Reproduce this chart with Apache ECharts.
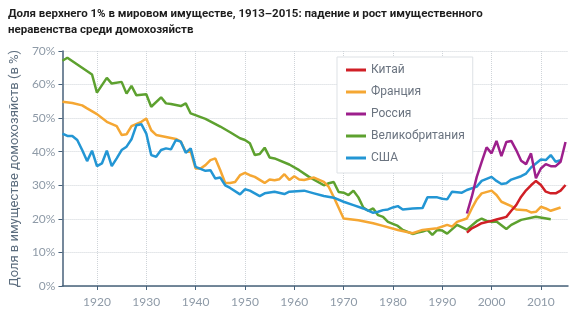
<!DOCTYPE html>
<html><head><meta charset="utf-8">
<script src="https://cdn.jsdelivr.net/npm/echarts@6/dist/echarts.min.js"></script>
<style>html,body{margin:0;padding:0;background:#fff}#c{width:585px;height:326px}</style>
</head><body><div id="c"></div>
<script>
const seriesNames = ['Китай','Франция','Россия','Великобритания','США'];
const tickYears = [1920,1930,1940,1950,1960,1970,1980,1990,2000,2010];

const chinaYears = [1995,1996,1997,1998,2000,2001,2002,2003,2004,2005,2006,2007,2008,2009,2010,2011,2012,2013,2014,2015];
const chinaShare = [15.9,17.2,17.9,18.7,19.4,19.8,20.2,20.6,22.4,24.1,26.6,28.5,30.0,31.3,30.1,28.1,27.6,27.6,28.4,30.1];

const franceYears = [1913,1915,1917,1918,1920,1922,1924,1925,1926,1927,1929,1930,1931,1932,1934,1936,1937,1938,1939,1940,1941,1942,1943,1944,1945,1946,1947,1948,1949,1950,1951,1952,1954,1955,1956,1957,1958,1959,1960,1961,1962,1964,1966,1967,1968,1970,1973,1976,1978,1981,1984,1986,1989,1991,1992,1993,1995,1996,1997,1998,2000,2001,2002,2004,2005,2007,2008,2009,2010,2011,2012,2014];
const franceShare = [54.9,54.5,53.8,52.9,51.2,48.9,47.6,45.0,45.2,47.6,48.9,49.9,46.4,45.0,44.4,43.8,43.0,40.0,40.0,35.0,35.0,36.0,37.5,38.0,34.5,30.7,30.7,31.0,33.0,33.7,33.0,32.5,30.7,31.7,31.5,31.8,33.3,31.6,32.7,31.7,31.6,32.3,31.0,29.5,26.5,20.1,19.6,18.7,17.9,16.7,15.7,16.7,17.2,18.2,17.7,19.1,20.1,23.1,25.8,27.6,28.4,27.1,25.1,23.8,22.8,22.6,21.9,22.1,23.6,23.1,22.4,23.4];

const russiaYears = [1995,1996,1997,1998,1999,2000,2001,2002,2003,2004,2005,2006,2007,2008,2009,2010,2011,2012,2013,2014,2015];
const russiaShare = [21.6,26.6,32.5,37.0,41.3,39.5,43.2,38.7,42.9,43.2,40.5,37.3,36.3,39.5,32.1,35.0,36.3,35.7,35.7,37.0,42.9];

const ukYears = [1913,1914,1919,1920,1922,1923,1925,1926,1927,1928,1930,1931,1933,1934,1935,1937,1938,1939,1942,1945,1947,1949,1950,1951,1952,1953,1954,1955,1956,1959,1961,1963,1966,1967,1968,1969,1970,1971,1972,1973,1974,1975,1976,1977,1978,1979,1981,1982,1984,1985,1986,1987,1988,1989,1990,1991,1993,1995,1997,1998,1999,2000,2001,2003,2004,2006,2009,2012];
const ukShare = [67.1,68.0,63.0,57.6,62.0,60.3,60.8,57.3,59.6,56.8,57.1,53.4,56.2,54.4,54.2,53.6,54.4,51.4,49.8,47.5,45.8,44.0,43.5,42.5,39.0,39.3,41.2,38.3,38.0,36.2,34.5,32.5,30.0,30.6,31.0,28.0,27.8,27.1,28.4,26.4,23.4,22.4,23.1,21.1,20.6,19.1,17.9,16.7,15.5,15.9,16.2,16.7,15.2,16.7,16.5,15.6,18.2,16.8,19.3,20.1,19.4,19.1,19.2,17.0,18.2,19.7,20.6,19.9];

const usaYears = [1913,1914,1915,1916,1917,1918,1919,1920,1921,1922,1923,1924,1925,1926,1927,1928,1929,1930,1931,1932,1933,1934,1935,1936,1937,1938,1939,1940,1942,1943,1944,1945,1946,1947,1949,1950,1951,1953,1954,1956,1958,1959,1962,1964,1966,1968,1970,1972,1974,1976,1977,1978,1979,1980,1981,1982,1984,1986,1987,1989,1990,1991,1992,1994,1995,1997,1998,2000,2001,2002,2003,2004,2006,2007,2008,2009,2010,2011,2012,2013,2014];
const usaShare = [45.4,44.7,44.7,43.5,40.5,37.2,40.3,35.7,36.5,40.3,35.7,38.0,40.5,41.5,43.7,47.9,48.2,45.4,39.0,38.5,40.5,41.0,40.7,43.5,43.0,39.7,41.0,35.5,34.3,34.5,32.0,32.3,30.0,29.2,27.3,28.8,28.4,26.8,27.6,28.1,27.4,28.1,28.4,27.6,26.8,26.3,25.1,24.1,23.1,21.8,22.1,22.6,22.8,23.4,23.8,22.8,23.1,23.2,26.4,26.4,26.0,25.8,28.1,27.8,28.6,29.6,31.3,32.5,31.3,30.4,30.6,31.7,32.7,33.5,35.3,36.5,37.7,37.5,39.0,37.0,37.5];

function zip(xs, ys){ return xs.map((x,i)=>[x, ys[i]]); }

const colors = {
  'Китай':'#d01f26',
  'Франция':'#f5a733',
  'Россия':'#9d1f8c',
  'Великобритания':'#5da12f',
  'США':'#2396d4'
};
const dataByName = {
  'Великобритания': zip(ukYears, ukShare),
  'Франция': zip(franceYears, franceShare),
  'США': zip(usaYears, usaShare),
  'Китай': zip(chinaYears, chinaShare),
  'Россия': zip(russiaYears, russiaShare)
};
const drawOrder = ['Великобритания','Франция','США','Китай','Россия'];

const chart = echarts.init(document.getElementById('c'), null, {renderer:'canvas'});
const axisColor = '#47617a';
const labelColor = '#8e9aa7';
chart.setOption({
  animation: false,
  title: {
    text: 'Доля верхнего 1% в мировом имуществе, 1913–2015: падение и рост имущественного\nнеравенства среди домохозяйств',
    left: 3, top: 1,
    textStyle: {fontFamily: 'Roboto, sans-serif', fontWeight: 'bold', fontSize: 11.5, lineHeight: 16, color: '#1e1e1e'}
  },
  legend: {
    data: seriesNames,
    orient: 'vertical',
    left: 337, top: 57,
    padding: [6, 8, 8, 9],
    backgroundColor: '#fff',
    borderColor: '#dde1e5', borderWidth: 1,
    icon: 'rect', itemWidth: 20, itemHeight: 3, itemGap: 8,
    textStyle: {fontFamily: 'Roboto, sans-serif', fontSize: 12, lineHeight: 14, color: '#6b7480'}
  },
  grid: {left: 51, right: 17, top: 51, bottom: 40, containLabel: false},
  xAxis: {
    type: 'value', min: 1913, max: 2015.5,
    axisLine: {lineStyle: {color: axisColor, width: 1.5}},
    axisTick: {show: true, length: 4, customValues: tickYears, lineStyle: {color: axisColor}},
    axisLabel: {customValues: tickYears, formatter: v => String(v), color: labelColor, fontFamily: 'Lato, sans-serif', fontSize: 12, margin: 10},
    splitLine: {show: true, lineStyle: {color: '#cfd4d9', type: 'dotted', width: 1}}
  },
  yAxis: {
    type: 'value', min: 0, max: 70, interval: 10,
    name: 'Доля в имуществе домохозяйств (в %)',
    nameLocation: 'middle', nameGap: 36,
    nameTextStyle: {fontFamily: 'Roboto, sans-serif', fontSize: 13, color: '#5c6d7e'},
    axisLine: {show: true, lineStyle: {color: axisColor, width: 1.5}},
    axisTick: {show: true, length: 4, lineStyle: {color: axisColor}},
    axisLabel: {formatter: '{value}%', color: labelColor, fontFamily: 'Lato, sans-serif', fontSize: 12, margin: 7},
    splitLine: {show: true, lineStyle: {color: '#cfd4d9', type: 'dotted', width: 1}}
  },
  series: drawOrder.map(n => ({
    name: n, type: 'line', data: dataByName[n],
    showSymbol: false, symbol: 'none',
    lineStyle: {width: 2.5, color: colors[n]},
    itemStyle: {color: colors[n]},
    z: 2
  }))
});
</script></body></html>
